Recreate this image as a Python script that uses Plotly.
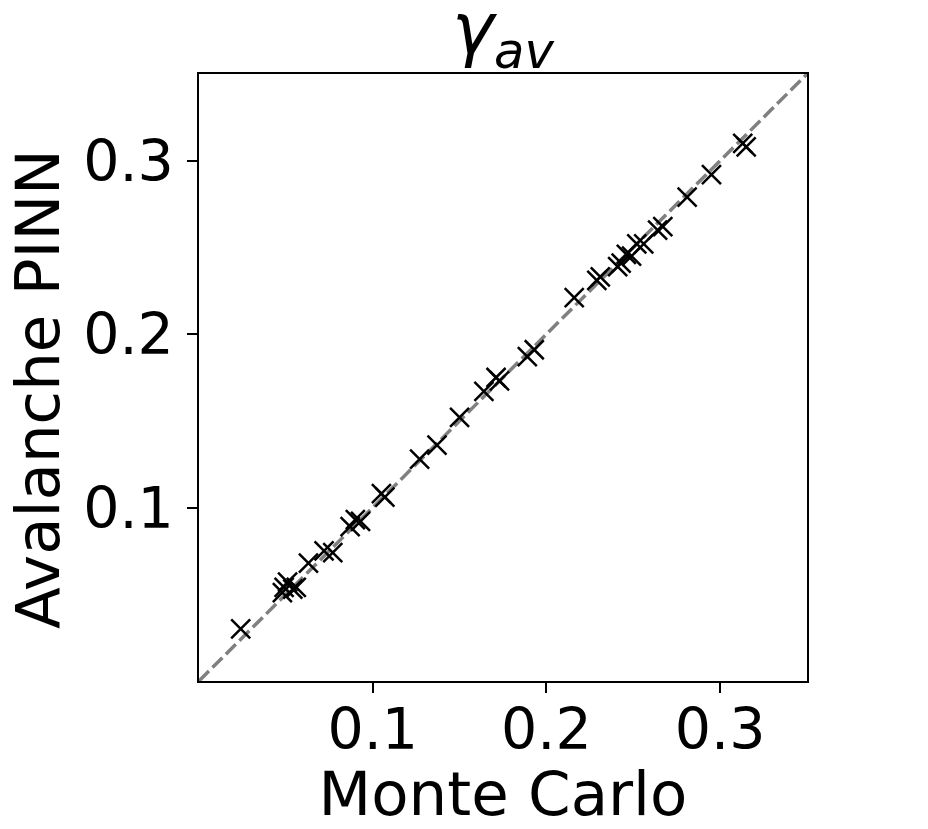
import plotly.graph_objects as go

# Monte Carlo vs Avalanche PINN estimates
monte_carlo = [0.024, 0.049, 0.051, 0.048, 0.054, 0.056, 0.063, 0.072, 0.077, 0.087,
               0.090, 0.093, 0.105, 0.107, 0.127, 0.137, 0.150, 0.164, 0.173, 0.171,
               0.189, 0.193, 0.216, 0.229, 0.231, 0.241, 0.243, 0.246, 0.249, 0.252,
               0.256, 0.264, 0.267, 0.281, 0.295, 0.313, 0.315]
pinn = [0.030, 0.054, 0.057, 0.051, 0.053, 0.054, 0.068, 0.075, 0.074, 0.089,
        0.093, 0.092, 0.108, 0.106, 0.128, 0.136, 0.152, 0.167, 0.173, 0.175,
        0.187, 0.191, 0.221, 0.231, 0.233, 0.239, 0.241, 0.246, 0.245, 0.252,
        0.252, 0.260, 0.262, 0.279, 0.292, 0.310, 0.308]
diag = [0, 0.35]
tick_vals = [0.1, 0.2, 0.3]

fig = go.Figure()
fig.add_trace(go.Scatter(x=diag, y=diag, mode="lines",
                         line=dict(color="gray", width=3.5, dash="14px,5px"),
                         showlegend=False))
fig.add_trace(go.Scatter(x=monte_carlo, y=pinn, mode="markers",
                         marker=dict(symbol="x-thin", size=19, color="black",
                                     line=dict(color="black", width=2.5)),
                         showlegend=False))

axis_style = dict(range=[0, 0.35], tickvals=tick_vals, ticktext=["0.1", "0.2", "0.3"],
                  showgrid=False, zeroline=False, showline=True, mirror=True,
                  linecolor="black", linewidth=1.5, ticks="outside", ticklen=10,
                  tickwidth=1.5, tickcolor="black", automargin=False,
                  tickfont=dict(size=57, color="black"))

# the page body has an 8px margin, so the figure is 8px smaller than the window
fig.update_layout(
    width=920, height=821,
    margin=dict(l=191, r=121, t=66, b=148),
    paper_bgcolor="white", plot_bgcolor="white",
    font=dict(family="DejaVu Sans", color="black"),
    title=dict(text="<i>γ</i><sub><i>av</i></sub>", font=dict(size=71),
               x=0.5, xanchor="center", xref="paper",
               y=1, yref="paper", yanchor="bottom", pad=dict(b=21)),
    xaxis=dict(axis_style, ticklabelstandoff=-12,
               title=dict(text="Monte Carlo", font=dict(size=61), standoff=20)),
    yaxis=dict(axis_style, ticklabelstandoff=2),
)

# y title as annotation so it can sit slightly below the axis centre, like the original
fig.add_annotation(text="Avalanche PINN", textangle=-90, showarrow=False,
                   font=dict(size=61, color="black"),
                   xref="paper", yref="paper", x=0, y=0.481,
                   xanchor="center", yanchor="middle", xshift=-162)

fig.write_html("out.html")
